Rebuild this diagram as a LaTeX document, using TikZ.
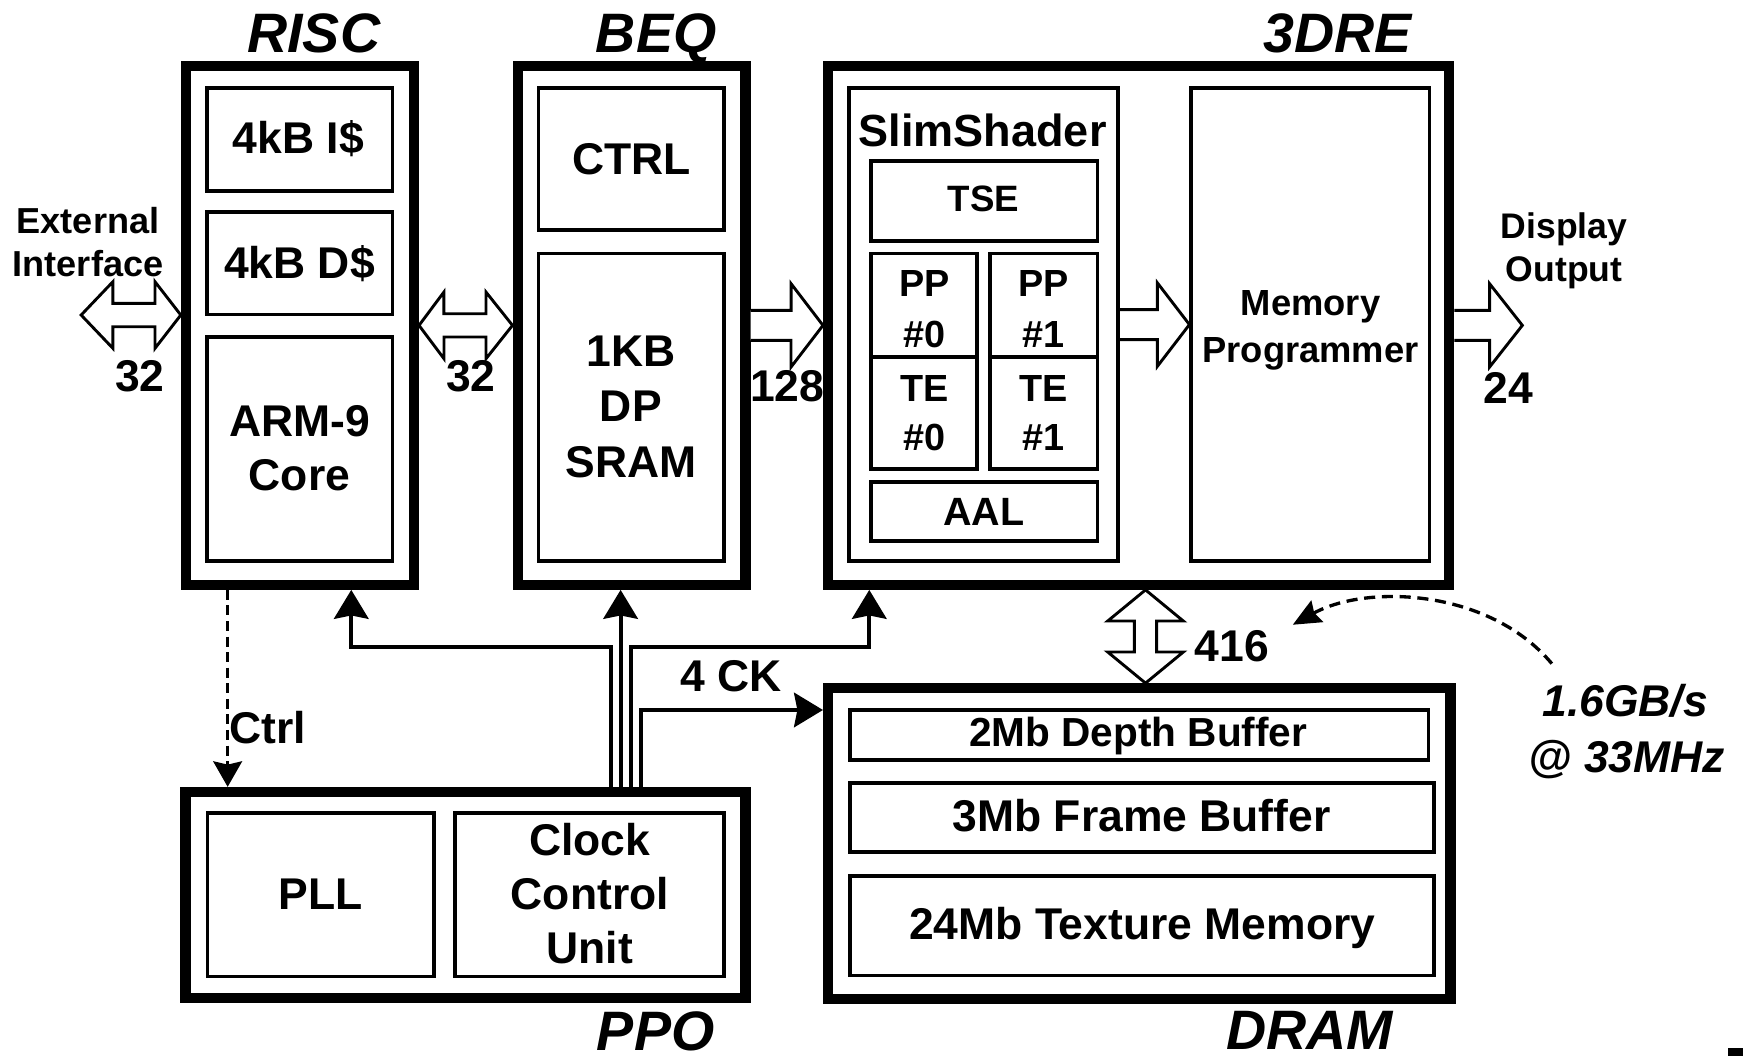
\documentclass[tikz,border=0pt]{standalone}
\usepackage{fontspec}
\setmainfont{Liberation Sans}
\usetikzlibrary{arrows.meta,calc}
\begin{document}
\begin{tikzpicture}[x=1pt,y=-1pt,
  outerbox/.style={draw, line width=9.3pt, inner sep=0pt, rectangle},
  innerbox/.style={draw, line width=3.4pt, inner sep=0pt, rectangle},
  lbl/.style={inner sep=0pt, anchor=base, font=\fontsize{40}{48}\selectfont\bfseries},
  ttl/.style={inner sep=0pt, anchor=base, font=\fontsize{50}{60}\selectfont\bfseries\itshape},
  blk/.style={draw, fill=white, line width=2.6pt, line join=miter},
  clk/.style={line width=3.6pt, -{Stealth[length=26pt,width=31pt,inset=3pt]}},
  ctl/.style={line width=2.4pt, dash pattern=on 9pt off 5pt, -{Stealth[length=23pt,width=26pt,inset=3pt]}},
  bw/.style={line width=3pt, dash pattern=on 10pt off 6pt, -{Stealth[length=25pt,width=22pt,inset=3pt]}}
]
\useasboundingbox (0,0) rectangle (1568,950);

% ---------- outer blocks ----------
\node[outerbox, minimum width=205pt, minimum height=466.6pt] (risc) at (269.8,292.7) {};
\node[outerbox, minimum width=205pt, minimum height=466.6pt] (beq) at (568.2,292.7) {};
\node[outerbox, minimum width=558.6pt, minimum height=466.6pt] (dre) at (1024.3,292.7) {};
\node[outerbox, minimum width=503.6pt, minimum height=185.5pt] (ppo) at (418.8,805.25) {};
\node[outerbox, minimum width=560pt, minimum height=279.2pt] (dram) at (1025,758.8) {};

% ---------- inner boxes ----------
\node[innerbox, minimum width=166.5pt, minimum height=92.5pt] (icache) at (269.75,125.25) {};
\node[innerbox, minimum width=166.5pt, minimum height=92.5pt] (dcache) at (269.75,236.75) {};
\node[innerbox, minimum width=166.5pt, minimum height=202pt] (arm) at (269.75,404) {};
\node[innerbox, minimum width=167pt, minimum height=128pt] (ctrl) at (568,143) {};
\node[innerbox, minimum width=167pt, minimum height=277pt] (sram) at (568,366.5) {};
\node[innerbox, minimum width=242pt, minimum height=426pt] (ss) at (885,292) {};
\node[innerbox, minimum width=203.4pt, minimum height=71.6pt] (tse) at (885.5,180.8) {};
\node[innerbox, minimum width=94.8pt, minimum height=93pt] (pp0) at (831.2,274.5) {};
\node[innerbox, minimum width=94.8pt, minimum height=101pt] (te0) at (831.2,371.5) {};
\node[innerbox, minimum width=96.5pt, minimum height=93pt] (pp1) at (938.95,274.5) {};
\node[innerbox, minimum width=96.5pt, minimum height=101pt] (te1) at (938.95,371.5) {};
\node[innerbox, minimum width=203.4pt, minimum height=52.8pt] (aal) at (885.5,460.1) {};
\node[innerbox, minimum width=214.3pt, minimum height=426pt] (mp) at (1178.85,292) {};
\node[innerbox, minimum width=204pt, minimum height=147.1pt] (pll) at (288.7,804.85) {};
\node[innerbox, minimum width=241.8pt, minimum height=147.1pt] (ccu) at (530.1,804.85) {};
\node[innerbox, minimum width=520.3pt, minimum height=44.6pt] (depth) at (1024.85,661.2) {};
\node[innerbox, minimum width=525pt, minimum height=62.3pt] (frame) at (1027.2,735.45) {};
\node[innerbox, minimum width=525pt, minimum height=89.5pt] (tex) at (1027.2,832.75) {};

% ---------- titles ----------
\node[ttl] (tRISC) at (282.3,47) {RISC};
\node[ttl] (tBEQ) at (590.3,47) {BEQ};
\node[ttl] (t3DRE) at (1203.4,47) {3DRE};
\node[ttl] (tPPO) at (589.8,945) {PPO};
\node[ttl] (tDRAM) at (1178.4,944) {DRAM};

% ---------- box texts ----------
\node[lbl] (xI) at (268.5,138) {4kB I\$};
\node[lbl] (xD) at (269.4,250.4) {4kB D\$};
\node[lbl] (xA1) at (269.4,392.8) {ARM-9};
\node[lbl] (xA2) at (269.4,440.8) {Core};
\node[lbl] (xC) at (568,157.4) {CTRL};
\node[lbl] (xS1) at (567.5,330) {1KB};
\node[lbl] (xS2) at (567.5,379.4) {DP};
\node[lbl] (xS3) at (567.5,429.5) {SRAM};
\node[lbl, font=\fontsize{40.5}{48}\selectfont\bfseries] (xSS) at (884,131.5) {SlimShader};
\node[lbl, font=\fontsize{33}{40}\selectfont\bfseries] (xT) at (884.7,190.4) {TSE};
\begin{scope}[every node/.style={lbl, font=\fontsize{34}{40}\selectfont\bfseries}]
\node (xP0a) at (832.1,266.9) {PP};
\node (xP0b) at (832.1,312.8) {\#0};
\node (xT0a) at (832.1,361.4) {TE};
\node (xT0b) at (832.1,405.5) {\#0};
\node (xP1a) at (938.6,266.9) {PP};
\node (xP1b) at (938.6,312.8) {\#1};
\node (xT1a) at (938.6,361.4) {TE};
\node (xT1b) at (938.6,405.5) {\#1};
\end{scope}
\node[lbl, font=\fontsize{35.5}{40}\selectfont\bfseries] (xAAL) at (884.9,472.3) {AAL};
\node[lbl, font=\fontsize{32.7}{40}\selectfont\bfseries] (xM1) at (1179,283.4) {Memory};
\node[lbl, font=\fontsize{32.7}{40}\selectfont\bfseries] (xM2) at (1179,326.3) {Programmer};
\node[lbl] (xPLL) at (288.7,818.6) {PLL};
\node[lbl] (xCC1) at (530.6,769.2) {Clock};
\node[lbl] (xCC2) at (530.6,818.6) {Control};
\node[lbl] (xCC3) at (530.6,866.6) {Unit};
\node[lbl, font=\fontsize{36.5}{44}\selectfont\bfseries] (xDB) at (1024,671.7) {2Mb Depth Buffer};
\node[lbl] (xFB) at (1027,748.2) {3Mb Frame Buffer};
\node[lbl] (xTM) at (1027.5,845.6) {24Mb Texture Memory};

% ---------- side labels ----------
\node[lbl, font=\fontsize{32.5}{40}\selectfont\bfseries] (xE1) at (79.2,210) {External};
\node[lbl, font=\fontsize{32.5}{40}\selectfont\bfseries] (xE2) at (79.2,249) {Interface};
\node[lbl, font=\fontsize{32}{40}\selectfont\bfseries] (xO1) at (1407,214.4) {Display};
\node[lbl, font=\fontsize{32}{40}\selectfont\bfseries] (xO2) at (1407,253.4) {Output};
\node[lbl] (n32a) at (125.7,352.4) {32};
\node[lbl] (n32b) at (423.5,352.4) {32};
\node[lbl] (n128) at (708.3,361.4) {128};
\node[lbl] (n24) at (1356.6,362.9) {24};
\node[lbl] (n416) at (1108.3,595.3) {416};
\node[lbl] (n4ck) at (657.4,622) {4 CK};
\node[lbl] (nctrl) at (241,668.7) {Ctrl};
\node[lbl, font=\fontsize{40}{48}\selectfont\bfseries\itshape] (bw1) at (1462,644.7) {1.6GB/s};
\node[lbl, font=\fontsize{40}{48}\selectfont\bfseries\itshape] (bw2) at (1463.5,694.5) {@ 33MHz};

% ---------- block arrows ----------
\coordinate (ext) at (73,283.4);
\draw[blk] (ext) -- ++(28.6,-30) -- ++(0,19.5) -- ++(37.8,0) -- ++(0,-19.5)
  -- ([yshift=9.3pt]risc.west) -- ++(-23.25,30) -- ++(0,-19.5) -- ++(-37.8,0) -- ++(0,19.5) -- cycle;
\draw[blk] (risc.east) -- ++(22.4,-30) -- ++(0,19.5) -- ++(37.8,0) -- ++(0,-19.5)
  -- (beq.west) -- ++(-23.85,30) -- ++(0,-19.5) -- ++(-37.8,0) -- ++(0,19.5) -- cycle;
\draw[blk] ([yshift=13.5pt]beq.east) -- ++(36.3,0) -- ++(0,-24) -- (dre.west)
  -- ++(-28.75,37.5) -- ++(0,-24) -- ([yshift=-13.5pt]beq.east);
\draw[blk] ([yshift=13.5pt]ss.east) -- ++(33.5,0) -- ++(0,-24) -- (mp.west)
  -- ++(-28.8,37.5) -- ++(0,-24) -- ([yshift=-13.5pt]ss.east);
\coordinate (disp) at (1369.5,292.7);
\draw[blk] ([yshift=13.5pt]dre.east) -- ++(31.75,0) -- ++(0,-24) -- (disp)
  -- ++(-29.5,37.5) -- ++(0,-24) -- ([yshift=-13.5pt]dre.east);
\coordinate (m416) at (1030.5,0);
\draw[blk] (dre.south -| m416) -- ++(34,28) -- ++(-24,0) -- ++(0,27.9) -- ++(24,0)
  -- (dram.north -| m416) -- ++(-34,-28) -- ++(24,0) -- ++(0,-27.9) -- ++(-24,0) -- cycle;

% ---------- clock lines ----------
\coordinate (xr) at (316,0);
\coordinate (k1) at (549.4,581.7);
\coordinate (k2) at (558.3,0);
\coordinate (k3) at (567.3,581.7);
\coordinate (xe) at (782,0);
\coordinate (k4) at (576.3,638.7);
\draw[clk] (ppo.north -| k1) -- (k1) -| (risc.south -| xr);
\draw[clk] (ppo.north -| k2) -- (beq.south -| k2);
\draw[clk] (ppo.north -| k3) -- (k3) -| (dre.south -| xe);
\draw[clk] (ppo.north -| k4) -- (k4) -- (dram.west |- k4);

% ---------- control ----------
\coordinate (xc) at (204.8,0);
\draw[ctl] (risc.south -| xc) -- (ppo.north -| xc);

% ---------- bandwidth note ----------
\coordinate (bws) at (1396,597);
\coordinate (bwt) at (1163,562);
\draw[bw] (bws) .. controls (1340,530) and (1230,525) .. (bwt);

\fill (1554.5,943) rectangle (1568,950);
\end{tikzpicture}
\end{document}
